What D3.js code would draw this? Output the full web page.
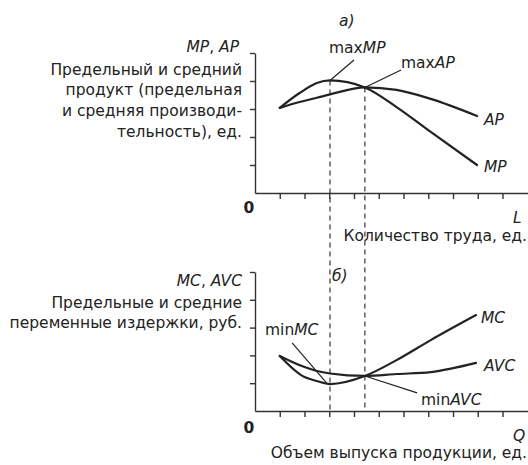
<!DOCTYPE html>
<html><head><meta charset="utf-8">
<script src="https://cdn.jsdelivr.net/npm/d3@7"></script>
<style>
html,body{margin:0;padding:0;background:#fff;}
text{font-family:"DejaVu Sans",sans-serif;fill:#222;}
</style></head>
<body>
<svg id="c" width="528" height="465"></svg>
<script>
// ---- data (units of axis ticks) ----
const laborL   = [1, 1.8, 2.5, 3.03, 4.44, 5.72, 7.1, 8.97];
const mpVals   = [3.04, 3.57, 3.93, 4.02, 3.77, 3.07, 2.18, 1.0];
const apVals   = [3.04, 3.25, 3.40, 3.52, 3.77, 3.68, 3.36, 2.75];
const outputQ  = [1, 2, 2.5, 3.03, 4.44, 5.72, 7.1, 8.93];
const mcVals   = [1.98, 1.22, 1.08, 0.97, 1.26, 1.83, 2.55, 3.45];
const avcVals  = [1.98, 1.58, 1.44, 1.35, 1.26, 1.33, 1.40, 1.73];
const xTicks   = [1,2,3,4,5,6,7,8,9,10];
const yTicks   = [1,2,3,4,5];
const keyPts   = [3.03, 4.44]; // maxMP / minMC and maxAP / minAVC

const svg = d3.select("#c");
const ink = "#222";

const x = d3.scaleLinear().domain([0, 11.03]).range([255, 528]);
const yTop = d3.scaleLinear().domain([0, 5]).range([193, 53]);
const yBot = d3.scaleLinear().domain([0, 5]).range([411, 272]);

function axes(y) {
  const gx = svg.append("g").attr("transform", `translate(0,${y(0)})`)
    .call(d3.axisBottom(x).tickValues(xTicks).tickSize(6).tickSizeOuter(0).tickFormat(""));
  const gy = svg.append("g").attr("transform", `translate(${x(0)},0)`)
    .call(d3.axisLeft(y).tickValues(yTicks).tickSize(5).tickSizeOuter(0).tickFormat(""));
  [gx, gy].forEach(g => {
    g.selectAll("path,line").attr("stroke", "#333").attr("stroke-width", 1.4);
  });
}
axes(yTop);
axes(yBot);

// dashed guides through both charts
const mpAt = d => mpVals[laborL.indexOf(d)];
svg.selectAll("line.guide").data(keyPts).join("line")
  .attr("x1", d => x(d)).attr("x2", d => x(d))
  .attr("y1", d => yTop(mpAt(d))).attr("y2", yBot(0))
  .attr("stroke", ink).attr("stroke-width", 1.1).attr("stroke-dasharray", "5,4");

function curve(xs, ys, y) {
  const line = d3.line().x(d => x(d[0])).y(d => y(d[1])).curve(d3.curveMonotoneX);
  svg.append("path").datum(xs.map((v, i) => [v, ys[i]]))
    .attr("d", line).attr("fill", "none").attr("stroke", ink)
    .attr("stroke-width", 2.2).attr("stroke-linecap", "round");
}
curve(laborL, mpVals, yTop);
curve(laborL, apVals, yTop);
curve(outputQ, mcVals, yBot);
curve(outputQ, avcVals, yBot);

// leader lines
const leaders = [
  {y: yTop, a: [3.03, 4.02], b: [4.0, 4.75]},
  {y: yTop, a: [4.44, 3.77], b: [5.9, 4.39]},
  {y: yBot, a: [1.5, 2.45], b: [2.9, 1.0]},
  {y: yBot, a: [4.44, 1.26], b: [6.55, 0.65]}
];
leaders.forEach(l => {
  svg.append("line").attr("x1", x(l.a[0])).attr("y1", l.y(l.a[1]))
    .attr("x2", x(l.b[0])).attr("y2", l.y(l.b[1]))
    .attr("stroke", ink).attr("stroke-width", 1.2);
});

// texts
function t(xp, yp, parts, anchor, size) {
  const el = svg.append("text").attr("x", xp).attr("y", yp)
    .attr("text-anchor", anchor || "start").attr("font-size", size || 15);
  parts.forEach(p => {
    const s = el.append("tspan").text(p[0]);
    if (p[1]) s.attr("font-style", "italic");
  });
  return el;
}
const fs = 15.5;
t(339, 26, [["а)", 1]], "start", fs);
t(329, 53, [["max"], ["MP", 1]], "start", fs);
t(401, 68, [["max"], ["AP", 1]], "start", fs);
t(484, 125, [["AP", 1]], "start", fs);
t(484, 172, [["MP", 1]], "start", fs);
t(513, 223, [["L", 1]], "start", fs);
t(527, 241, [["Количество труда, ед."]], "end", fs);
t(249, 213, [["0"]], "middle", fs).attr("font-weight", "bold");

t(239, 52, [["MP", 1], [", "], ["AP", 1]], "end", fs);
t(242, 75, [["Предельный и средний"]], "end", fs);
t(242, 95, [["продукт (предельная"]], "end", fs);
t(242, 116, [["и средняя производи-"]], "end", fs);
t(242, 137, [["тельность), ед."]], "end", fs);

t(332, 281, [["б)", 1]], "start", fs);
t(481, 323, [["MC", 1]], "start", fs);
t(484, 371, [["AVC", 1]], "start", fs);
t(265, 335, [["min"], ["MC", 1]], "start", fs);
t(421, 405, [["min"], ["AVC", 1]], "start", fs);
t(513, 441, [["Q", 1]], "start", fs);
t(527, 458, [["Объем выпуска продукции, ед."]], "end", fs);
t(249, 433, [["0"]], "middle", fs).attr("font-weight", "bold");

t(242, 286, [["MC", 1], [", "], ["AVC", 1]], "end", fs);
t(242, 308, [["Предельные и средние"]], "end", fs);
t(242, 328, [["переменные издержки, руб."]], "end", fs);
</script>
</body></html>
